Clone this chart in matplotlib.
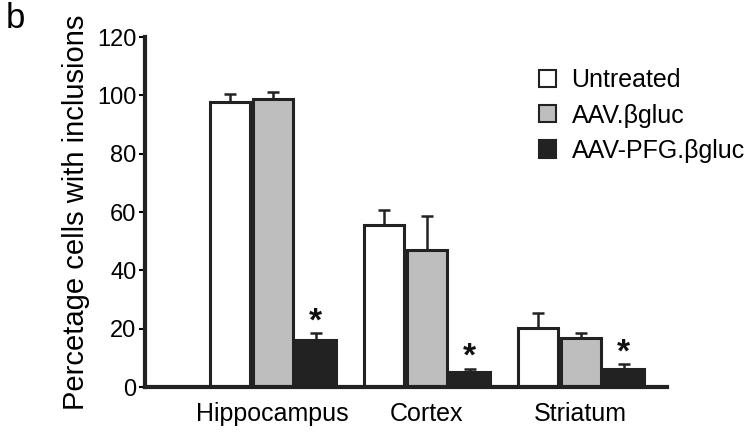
import numpy as np
import matplotlib.pyplot as plt
from matplotlib.patches import Patch

plt.rcParams['font.family'] = ['Liberation Sans', 'DejaVu Sans']

regions = ['Hippocampus', 'Cortex', 'Striatum']
groups = ['Untreated', 'AAV.\u03b2gluc', 'AAV-PFG.\u03b2gluc']
untreated = [97.8, 55.4, 20.1]
untreated_err = [2.6, 5.3, 5.4]
aav = [98.6, 46.9, 16.7]
aav_err = [2.5, 11.7, 1.7]
aav_pfg = [16.1, 5.3, 6.2]
aav_pfg_err = [2.3, 1.0, 1.6]
significant = [True, True, True]

colors = ['white', '#bebebe', '#222222']
edge = '#222222'

fig = plt.figure(figsize=(7.51, 4.33), dpi=100)
ax = fig.add_axes([0.193, 0.106, 0.695, 0.8085])

x = np.arange(len(regions))
width = 0.26
step = 0.28
series = [(untreated, untreated_err), (aav, aav_err), (aav_pfg, aav_pfg_err)]
for i, (vals, errs) in enumerate(series):
    pos = x + (i - 1) * step
    ax.bar(pos, vals, width, color=colors[i], edgecolor=edge, linewidth=2.2, zorder=2)
    ax.errorbar(pos, vals, yerr=[np.zeros(len(errs)), errs], fmt='none',
                ecolor=edge, elinewidth=1.8, capsize=4, capthick=1.8, zorder=1)

# significance stars above the AAV-PFG bars
for xi, v, e, s in zip(x + step, aav_pfg, aav_pfg_err, significant):
    if s:
        ax.text(xi, v + e + 4.0, '*', ha='center', va='center', fontsize=24,
                fontweight='bold', color='#111111')

ax.set_xlim(-0.83, 2.56)
ax.set_ylim(0, 120)
ax.set_yticks(np.arange(0, 121, 20))
ax.set_xticks(x)
ax.set_xticklabels(regions, fontsize=18)
ax.tick_params(axis='x', length=0, pad=11)
ax.tick_params(axis='y', labelsize=17, length=4, width=1.5, pad=2)
for side in ['top', 'right']:
    ax.spines[side].set_visible(False)
ax.spines['left'].set_linewidth(3)
ax.spines['bottom'].set_linewidth(3)
ax.spines['left'].set_color(edge)
ax.spines['bottom'].set_color(edge)

ax.set_ylabel('Percetage cells with inclusions', fontsize=21, labelpad=5)

handles = [Patch(facecolor=c, edgecolor=edge, linewidth=1.5) for c in colors]
ax.legend(handles, groups, loc='upper left', bbox_to_anchor=(0.712, 0.975),
          frameon=False, fontsize=18, handlelength=0.68, handleheight=0.68,
          handletextpad=0.62, labelspacing=0.45)

fig.text(0.008, 0.995, 'b', fontsize=25, va='top', ha='left')

fig.savefig('out.png', dpi=100)
